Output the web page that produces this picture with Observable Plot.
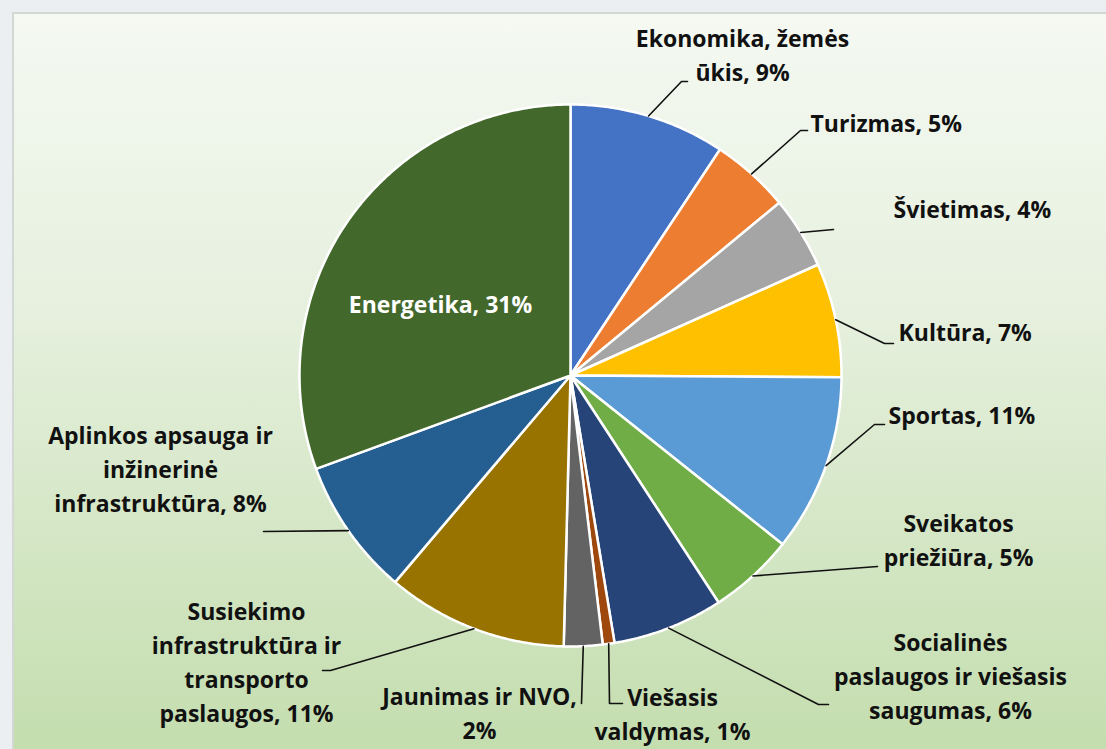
<!DOCTYPE html>
<html>
<head>
<meta charset="utf-8">
<script src="https://cdn.jsdelivr.net/npm/d3@7"></script>
<script src="https://cdn.jsdelivr.net/npm/@observablehq/plot@0.6"></script>
<style>
  html, body { margin: 0; padding: 0; width: 1106px; height: 749px; overflow: hidden; background: #eceff1; }
  #panel { position: absolute; left: 12px; top: 12px; width: 1100px; height: 745px;
    border-left: 2px solid #d4d8d4; border-top: 2px solid #d4d8d4;
    background: linear-gradient(to bottom, #f5f9f2 0%, #e6f0de 40%, #c3ddad 100%); }
  #chart { position: absolute; left: 0; top: 0; }
</style>
</head>
<body>
<div id="panel"></div>
<div id="chart"></div>
<script>
// ---- data ----
const categories = [
  "Ekonomika, žemės ūkis", "Turizmas", "Švietimas", "Kultūra", "Sportas",
  "Sveikatos priežiūra", "Socialinės paslaugos ir viešasis saugumas",
  "Viešasis valdymas", "Jaunimas ir NVO",
  "Susiekimo infrastruktūra ir transporto paslaugos",
  "Aplinkos apsauga ir inžinerinė infrastruktūra", "Energetika"
];
const shares = [9.3, 4.7, 4.3, 6.8, 10.6, 5.1, 6.6, 0.7, 2.3, 10.8, 8.2, 30.6];
const percentLabels = [9, 5, 4, 7, 11, 5, 6, 1, 2, 11, 8, 31];
const labelLines = [
  ["Ekonomika, žemės", "ūkis, 9%"],
  ["Turizmas, 5%"],
  ["Švietimas, 4%"],
  ["Kultūra, 7%"],
  ["Sportas, 11%"],
  ["Sveikatos", "priežiūra, 5%"],
  ["Socialinės", "paslaugos ir viešasis", "saugumas, 6%"],
  ["Viešasis", "valdymas, 1%"],
  ["Jaunimas ir NVO,", "2%"],
  ["Susiekimo", "infrastruktūra ir", "transporto", "paslaugos, 11%"],
  ["Aplinkos apsauga ir", "inžinerinė", "infrastruktūra, 8%"],
  ["Energetika, 31%"]
];

// ---- styles / layout ----
const colors = ["#4472c4", "#ed7d31", "#a5a5a5", "#ffc000", "#5b9bd5", "#70ad47",
                "#264478", "#9e480e", "#636363", "#997300", "#255e91", "#43682b"];
const cx = 570, cy = 375, R = 271;
// label block positions [x, y(middle), anchor]
const labelPos = [
  [742, 53, "middle"], [810, 121, "start"], [893, 207, "start"], [898, 330, "start"],
  [888, 413, "start"], [958, 538, "middle"], [950, 674, "middle"], [672, 712, "middle"],
  [479, 711, "middle"], [246, 660, "middle"], [160, 467, "middle"], [440, 302, "middle"]
];
// leader line bends (after the slice-edge start point)
const leaderBends = [
  [[681, 81], [687, 81]], [[800, 130], [807, 130]], [[833, 229]], [[884, 343], [893, 343]],
  [[874, 424], [884, 424]], [[877, 566]], [[818, 704], [828, 704]], [[609, 703], [622, 703]],
  [[581, 703]], [[330, 670], [322, 670]], [[263, 531]], null
];

// ---- geometry ----
const total = d3.sum(shares);
let acc = 0;
const slices = shares.map((v, i) => {
  const a0 = acc / total * 2 * Math.PI;
  acc += v;
  const a1 = acc / total * 2 * Math.PI;
  return {i, a0, a1, mid: (a0 + a1) / 2};
});
const pt = (a, r) => [cx + r * Math.sin(a), cy - r * Math.cos(a)];

const sliceMarks = slices.map(s => {
  const pts = [[cx, cy]];
  const n = Math.max(2, Math.ceil((s.a1 - s.a0) / (Math.PI / 360)));
  for (let k = 0; k <= n; k++) pts.push(pt(s.a0 + (s.a1 - s.a0) * k / n, R));
  pts.push([cx, cy]);
  return Plot.line(pts, {x: d => d[0], y: d => d[1], fill: colors[s.i], stroke: "white",
    strokeWidth: 2.5, strokeLinejoin: "round", curve: "linear"});
});

const leaderMarks = slices.filter(s => leaderBends[s.i]).map(s => {
  const pts = [pt(s.mid, R), ...leaderBends[s.i]];
  return Plot.line(pts, {x: d => d[0], y: d => d[1], stroke: "#111", strokeWidth: 1.6, curve: "linear"});
});

const labels = labelLines.map((lines, i) => ({
  text: lines.join("\n"), x: labelPos[i][0], y: labelPos[i][1], anchor: labelPos[i][2],
  fill: i === 11 ? "#ffffff" : "#111111"
}));

const textMarks = ["start", "middle"].map(anc =>
  Plot.text(labels.filter(d => d.anchor === anc), {
    x: "x", y: "y", text: "text", fill: "fill", textAnchor: anc, lineAnchor: "middle",
    lineHeight: 1.48, fontSize: 23, fontWeight: 700, fontFamily: "Open Sans"
  })
);

const chart = Plot.plot({
  width: 1106, height: 749, margin: 0,
  x: {domain: [0, 1106], range: [0, 1106], axis: null},
  y: {domain: [0, 749], range: [0, 749], axis: null},
  style: {background: "transparent", fontFamily: "Open Sans"},
  marks: [...sliceMarks, ...leaderMarks, ...textMarks]
});
document.getElementById("chart").appendChild(chart);
</script>
</body>
</html>
